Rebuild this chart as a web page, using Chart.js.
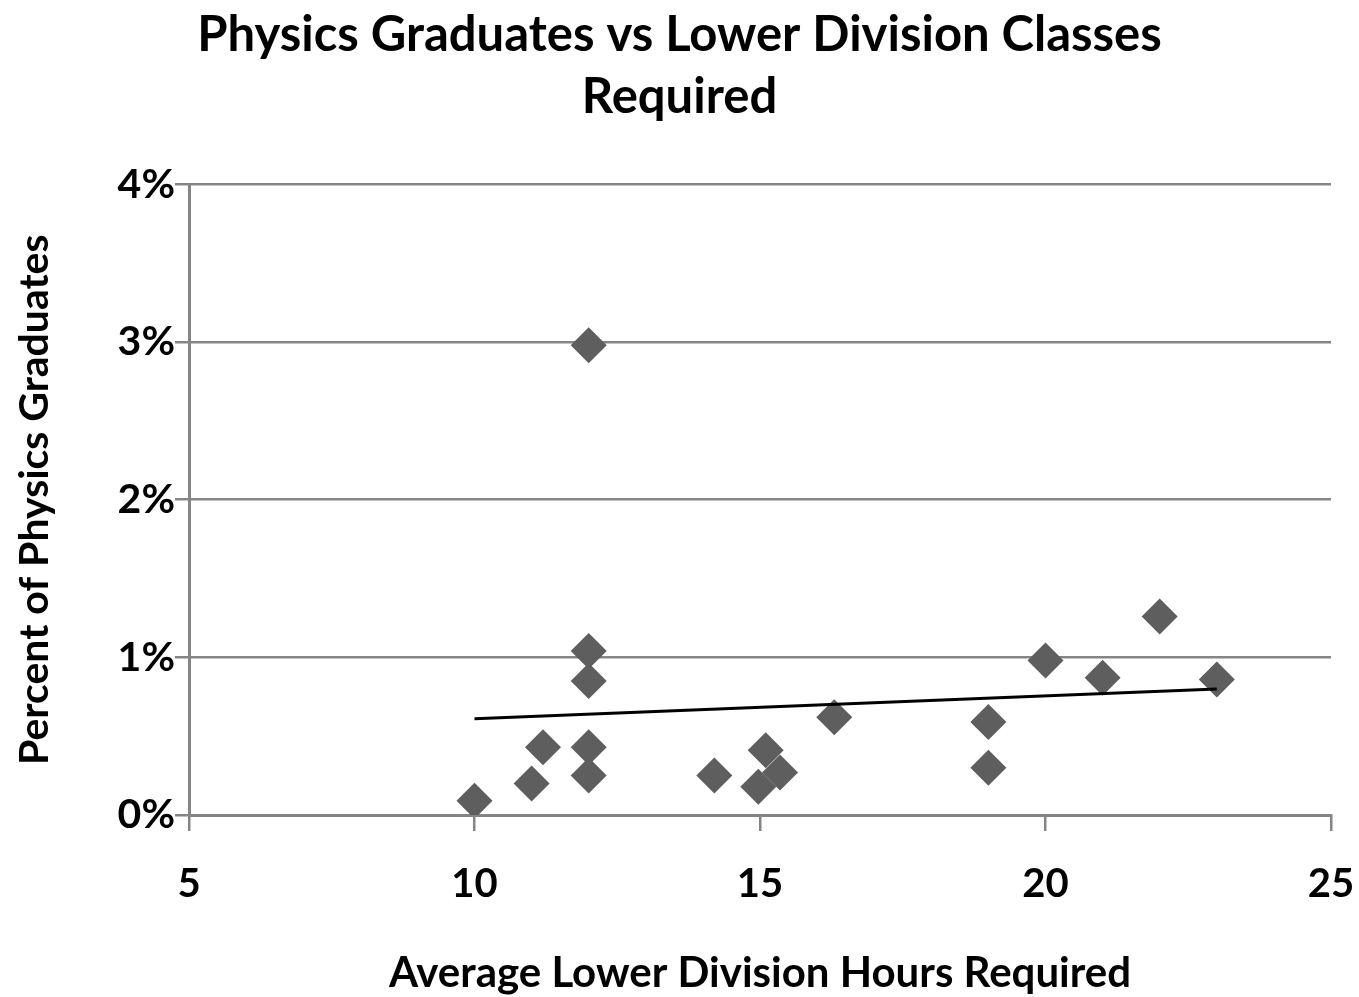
<!DOCTYPE html>
<html>
<head>
<meta charset="utf-8">
<script src="https://cdn.jsdelivr.net/npm/chart.js@4"></script>
<style>
  body { margin: 0; background: #fff; }
</style>
</head>
<body>
<canvas id="scatterChart" width="1359" height="997"></canvas>
<script>
// Average lower division hours vs percent of physics graduates
const hoursRequired = [10.0, 11.0, 11.2, 12.0, 12.0, 12.0, 12.0, 12.0, 14.2, 14.97, 15.1, 15.35, 16.3, 19.0, 19.0, 20.0, 21.0, 22.0, 23.0];
const pctGraduates = [0.09, 0.20, 0.43, 2.98, 1.04, 0.85, 0.43, 0.25, 0.25, 0.18, 0.41, 0.27, 0.62, 0.59, 0.30, 0.98, 0.87, 1.26, 0.86];

// Linear trendline end points
const trendX = [10, 23];
const trendY = [0.61, 0.80];

const xTicks = [5, 10, 15, 20, 25];
const yTicks = [0, 1, 2, 3, 4];

const gridGray = "#858585";
const fontFamily = "Lato, 'Open Sans', sans-serif";

const points = hoursRequired.map((x, i) => ({ x, y: pctGraduates[i] }));
const trend = trendX.map((x, i) => ({ x, y: trendY[i] }));

new Chart(document.getElementById("scatterChart"), {
  type: "scatter",
  data: {
    datasets: [
      {
        label: "Percent of Physics Graduates",
        data: points,
        pointStyle: "rectRot",
        pointRadius: 18,
        pointBackgroundColor: "#5e5e5e",
        pointBorderWidth: 0,
        showLine: false,
        order: 2
      },
      {
        label: "Linear trend",
        data: trend,
        showLine: true,
        borderColor: "#000000",
        borderWidth: 3,
        pointRadius: 0,
        order: 1
      }
    ]
  },
  options: {
    responsive: false,
    animation: false,
    layout: { padding: { left: 0, right: 0, top: 0, bottom: 0 } },
    plugins: {
      legend: { display: false },
      tooltip: { enabled: false },
      title: {
        display: true,
        text: ["Physics Graduates vs Lower Division Classes", "Required"],
        color: "#000",
        font: { family: fontFamily, size: 49, weight: "bold", lineHeight: 1.27 },
        padding: { top: 4, bottom: 56 }
      }
    },
    scales: {
      x: {
        type: "linear",
        min: 5,
        max: 25,
        afterBuildTicks: (axis) => { axis.ticks = xTicks.map(v => ({ value: v })); },
        afterFit: (axis) => {
          axis.height = 182;
          // keep right edge of plot at the same place as the reference
          axis.paddingRight = 28;
          axis.paddingLeft = 0;
        },
        border: { color: gridGray, width: 3 },
        grid: { drawOnChartArea: false, drawTicks: true, tickLength: 16, tickColor: gridGray, lineWidth: 2.5 },
        ticks: {
          color: "#000",
          padding: 29,
          font: { family: fontFamily, size: 40, weight: "bold" }
        },
        title: {
          display: true,
          text: "Average Lower Division Hours Required",
          color: "#000",
          font: { family: fontFamily, size: 42, weight: "bold", lineHeight: 1.1 },
          padding: { top: 0, bottom: 0 }
        }
      },
      y: {
        type: "linear",
        min: 0,
        max: 4,
        afterBuildTicks: (axis) => { axis.ticks = yTicks.map(v => ({ value: v })); },
        afterFit: (axis) => { axis.width = 189; },
        border: { color: gridGray, width: 3 },
        grid: { color: gridGray, lineWidth: 2.5, drawTicks: true, tickLength: 14, tickColor: gridGray },
        ticks: {
          color: "#000",
          padding: 0,
          font: { family: fontFamily, size: 41, weight: "bold" },
          callback: (v) => v + "%"
        },
        title: {
          display: true,
          text: "Percent of Physics Graduates",
          color: "#000",
          font: { family: fontFamily, size: 41, weight: "bold" },
          padding: { top: 10, bottom: 0 }
        }
      }
    }
  }
});
</script>
</body>
</html>
